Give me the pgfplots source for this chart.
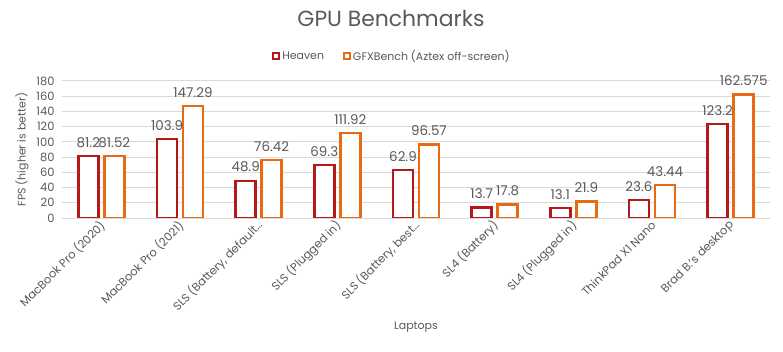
\documentclass[border=0pt]{standalone}
\usepackage{fontspec}
\setmainfont{Poppins}
\usepackage{pgfplots}
\pgfplotsset{compat=1.18}
\definecolor{heav}{RGB}{180,24,24}
\definecolor{gfx}{RGB}{232,106,20}
\definecolor{txt}{RGB}{89,89,89}
\definecolor{grd}{RGB}{217,217,217}
\begin{document}
\begin{tikzpicture}
\path[use as bounding box] (0,0) rectangle (783bp,352bp);
\begin{axis}[
  at={(62bp,134bp)}, anchor=south west,
  scale only axis, width=708bp, height=137bp,
  ybar=6bp, bar width=20bp,
  xmin=-0.5, xmax=8.5, ymin=0, ymax=180,
  ytick={0,20,...,180},
  xtick={0,...,8},
  xticklabels={{MacBook Pro (2020)},{MacBook Pro (2021)},{SLS (Battery, default…},{SLS (Plugged in)},{SLS (Battery, best…},{SL4 (Battery)},{SL4 (Plugged in)},{ThinkPad X1 Nano},{Brad B.'s desktop}},
  xticklabel style={xshift=4bp, yshift=-3bp, rotate=45, anchor=east, font=\fontsize{11.5}{13}\selectfont, text=txt},
  yticklabel style={xshift=-4bp, font=\fontsize{11.5}{13}\selectfont, text=txt},
  /pgf/number format/assume math mode=true,
  major tick length=0pt,
  axis line style={draw=none},
  ymajorgrids, grid style={grd, line width=1pt},
  ylabel={FPS (higher is better)},
  xlabel={Laptops},
  every axis y label/.style={at={(axis description cs:-0.0565,0.5)}, rotate=90, anchor=center, font=\fontsize{11}{13}\selectfont, text=txt},
  every axis x label/.style={at={(axis description cs:0.5,-0.796)}, anchor=center, font=\fontsize{11}{13}\selectfont, text=txt},
  nodes near coords,
  every node near coord/.append style={font=\fontsize{13.5}{15}\selectfont, text=txt, /pgf/number format/precision=3, yshift=4bp},
  legend style={at={(axis description cs:0.466,1.182)}, anchor=center, draw=none, legend columns=2, font=\fontsize{11}{13}\selectfont, text=txt, /tikz/every even column/.append style={column sep=17bp}},
  legend image code/.code={\draw[#1, line width=2pt, fill=white] (0bp,-3bp) rectangle (6bp,3bp);},
]
\addplot[draw=heav, fill=white, line width=2.5pt] coordinates {(0,81.2) (1,103.9) (2,48.9) (3,69.3) (4,62.9) (5,13.7) (6,13.1) (7,23.6) (8,123.2)};
\addplot[draw=gfx, fill=white, line width=2.5pt] coordinates {(0,81.52) (1,147.29) (2,76.42) (3,111.92) (4,96.57) (5,17.8) (6,21.9) (7,43.44) (8,162.575)};
\legend{Heaven, GFXBench (Aztex off-screen)}
\end{axis}
\node[text=txt, font=\fontsize{22}{26}\selectfont] at (391bp,334bp) {GPU Benchmarks};
\end{tikzpicture}
\end{document}
